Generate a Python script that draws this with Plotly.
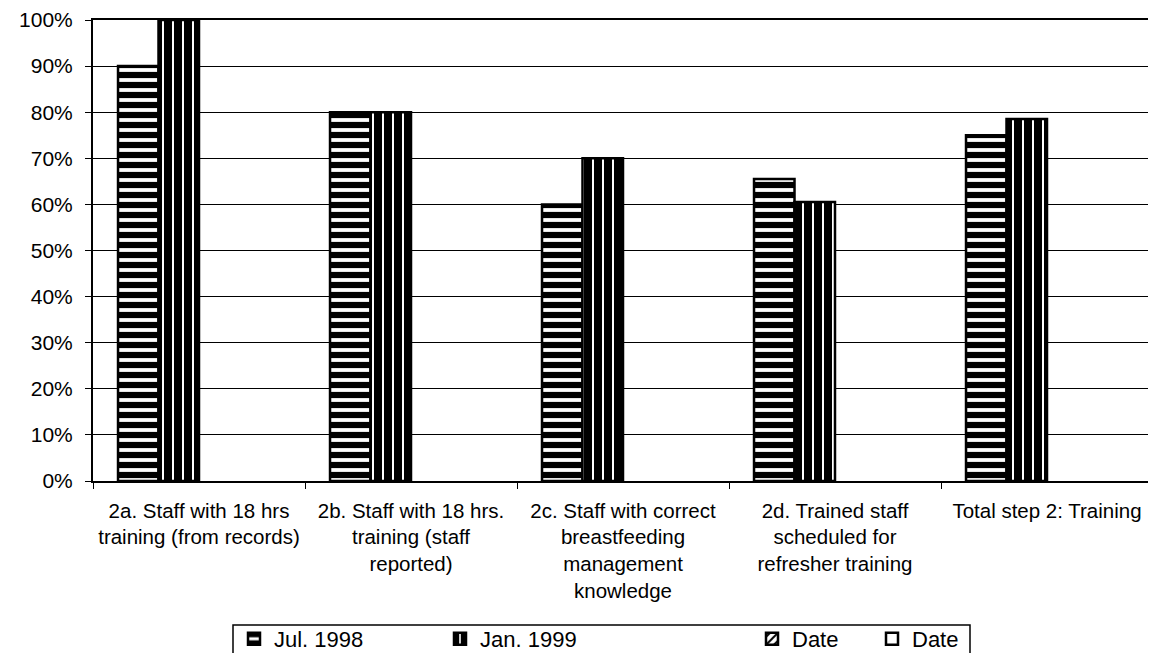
import plotly.graph_objects as go

categories = [
    "2a. Staff with 18 hrs<br>training (from records)",
    "2b. Staff with 18 hrs.<br>training (staff<br>reported)",
    "2c. Staff with correct<br>breastfeeding<br>management<br>knowledge",
    "2d. Trained staff<br>scheduled for<br>refresher training",
    "Total step 2: Training",
]
series_names = ["Jul. 1998", "Jan. 1999", "Date", "Date"]
jul_1998 = [90, 80, 60, 65.5, 75]
jan_1999 = [100, 80, 70, 60.5, 78.5]
date_3 = [None, None, None, None, None]
date_4 = [None, None, None, None, None]
y_ticks = [0, 10, 20, 30, 40, 50, 60, 70, 80, 90, 100]
y_tick_labels = [f"{v}%" for v in y_ticks]

FONT = "Liberation Sans, Arial, sans-serif"

# page offset of the plot div (default body margin)
OFF = 8
W, H = 1156 - OFF, 653 - OFF
# plot area in page pixels: x 93..1153, y 20..481
PL, PR, PT, PB = 93, 1153, 20, 481
L = PL - OFF
R = W - (PR - OFF)
T = PT - OFF
B = H - (PB - OFF)
pw = PR - PL
ph = PB - PT

def px_x(p):
    return (p - PL) / pw

def px_y(p):
    return (PB - p) / ph

fig = go.Figure()
patterns = [
    dict(shape="-", fgcolor="black", bgcolor="white", size=10, solidity=0.62, fgopacity=1),
    dict(shape="|", fgcolor="black", bgcolor="white", size=10, solidity=0.8, fgopacity=1),
    dict(shape="/", fgcolor="black", bgcolor="white", size=7, solidity=0.35, fgopacity=1),
    dict(shape="", fgcolor="black", bgcolor="white"),
]
values = [jul_1998, jan_1999, date_3, date_4]
legend_ids = ["legend", "legend2", "legend3", "legend4"]
for name, vals, pat, lid in zip(series_names, values, patterns, legend_ids):
    fig.add_trace(go.Bar(
        x=categories, y=vals, name=name,
        marker=dict(color="white", pattern=pat,
                    line=dict(color="black", width=2.5)),
        legend=lid, showlegend=True,
    ))

text_starts = [272, 478, 790, 910]
legend_common = dict(
    orientation="h", yanchor="top", xanchor="left",
    font=dict(family=FONT, size=22, color="black"),
    bgcolor="rgba(0,0,0,0)", borderwidth=0,
)
layout_legends = {}
for lid, ts in zip(legend_ids, text_starts):
    layout_legends[lid] = dict(legend_common, x=px_x(ts + 2 - 40), y=px_y(618))

fig.update_layout(
    width=W, height=H,
    margin=dict(l=L, r=R, t=T, b=B, pad=0, autoexpand=False),
    paper_bgcolor="white", plot_bgcolor="white",
    barmode="group", bargap=0.236, bargroupgap=0,
    font=dict(family=FONT, color="black"),
    **layout_legends,
    xaxis=dict(
        automargin=False,
        showline=True, linecolor="black", linewidth=2, mirror=True,
        ticks="outside", ticklen=6, tickcolor="black", tickwidth=1,
        tickson="boundaries", showgrid=False,
        tickfont=dict(family=FONT, size=20.5, color="black"),
        ticklabelstandoff=10,
    ),
    yaxis=dict(
        automargin=False,
        range=[0, 100], tickvals=y_ticks, ticktext=y_tick_labels,
        showline=True, linecolor="black", linewidth=2, mirror=True,
        ticks="outside", ticklen=6, tickcolor="black", tickwidth=1,
        showgrid=True, gridcolor="black", gridwidth=1,
        tickfont=dict(family=FONT, size=21, color="black"),
        ticklabelstandoff=8,
        zeroline=False,
    ),
    shapes=[dict(
        type="rect", xref="paper", yref="paper",
        x0=px_x(233), x1=px_x(970), y0=px_y(625), y1=px_y(680),
        line=dict(color="black", width=1.5), fillcolor="rgba(0,0,0,0)",
        layer="below",
    )],
)

fig.write_html("out.html")
